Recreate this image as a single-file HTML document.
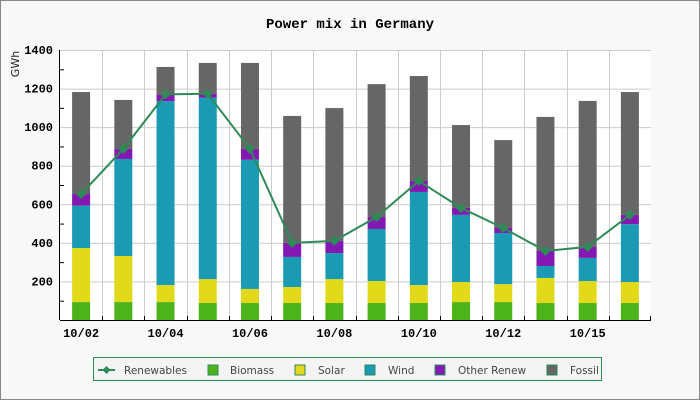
<!DOCTYPE html>
<html><head><meta charset="utf-8"><style>
html,body{margin:0;padding:0;background:#f8f8f8}
svg{display:block}
.lg{font-family:"DejaVu Sans",sans-serif;font-size:10.5px;fill:#444}
</style></head><body>
<svg id="chart" width="700" height="400" xmlns="http://www.w3.org/2000/svg">
<rect x="0.5" y="0.5" width="699" height="399" fill="#f8f8f8" stroke="#888"/>
<text x="350" y="28" text-anchor="middle" font-family="Liberation Mono, monospace" font-weight="bold" font-size="14" fill="#000">Power mix in Germany</text>
<text x="19" y="64" transform="rotate(-90 19 64)" text-anchor="middle" font-family="DejaVu Sans, sans-serif" font-size="11" fill="#222">GWh</text>
<rect x="60" y="50" width="591" height="270" fill="#fff"/>
<g id="grid"></g><g id="bars"></g><g id="line"></g><g id="axes"></g>
<g>
<rect x="93.5" y="357.5" width="508" height="23" fill="#f4f4f4" stroke="#2e8b57"/>
<g>
<line x1="98" y1="370" x2="115" y2="370" stroke="#2e8b57" stroke-width="2"/>
<path d="M106.5 366 L110.5 370 L106.5 374 L102.5 370Z" fill="#2e8b57"/>
<text x="124" y="374" class="lg">Renewables</text></g>
<g><rect x="208" y="365" width="10" height="10" fill="#4db31a" stroke="#2e8b57"/><text x="230" y="374" class="lg">Biomass</text></g>
<g><rect x="295" y="365" width="10" height="10" fill="#e2d91a" stroke="#2e8b57"/><text x="318" y="374" class="lg">Solar</text></g>
<g><rect x="365" y="365" width="10" height="10" fill="#1b9ab4" stroke="#2e8b57"/><text x="388" y="374" class="lg">Wind</text></g>
<g><rect x="435" y="365" width="10" height="10" fill="#8318b3" stroke="#2e8b57"/><text x="458" y="374" class="lg">Other Renew</text></g>
<g><rect x="547" y="365" width="10" height="10" fill="#666" stroke="#2e8b57"/><text x="570" y="374" class="lg">Fossil</text></g>
</g>
</svg>
<script>
const dates = ["10/02","10/03","10/04","10/05","10/06","10/07","10/08","10/09","10/10","10/11","10/12","10/14","10/15","10/16"];
const biomass = [93,93,93,88,88,88,88,88,88,93,93,88,88,88];
const solar = [280,239,88,124,73,83,124,114,93,104,93,130,114,109];
const wind = [220,503,954,941,670,156,135,270,483,348,265,62,120,300];
const otherRenew = [60,52,35,20,56,73,63,62,57,36,26,78,57,48];
const fossil = [529,254,142,160,446,658,689,689,544,430,456,695,757,637];
const yTicks = [200,400,600,800,1000,1200,1400];
const colors = ["#4db31a","#e2d91a","#1b9ab4","#8318b3","#666666"];
const names = ["biomass","solar","wind","other-renew","fossil"];
const NS="http://www.w3.org/2000/svg";
const X0=60,X1=651,Y0=320,Y1=50,YMAX=1400;
const step=(X1-X0)/dates.length;
function xc(i){return X0+step*(i+0.5);}
function ys(v){return Y0-(v/YMAX)*(Y0-Y1);}
function mk(tag,attrs,parent){const e=document.createElementNS(NS,tag);for(const k in attrs)e.setAttribute(k,attrs[k]);parent.appendChild(e);return e;}
const grid=document.getElementById('grid'),bars=document.getElementById('bars'),line=document.getElementById('line'),axes=document.getElementById('axes');
yTicks.forEach(t=>{const g=mk('line',{x1:X0,x2:X1,y1:ys(t)+0.5,y2:ys(t)+0.5,stroke:'#ccc'},grid);


const l=mk('text',{x:53,y:ys(t)+4,'text-anchor':'end','font-family':'Liberation Mono, monospace','font-weight':'bold','font-size':'12',fill:'#000'},axes);l.textContent=t;


});
for(let v=100;v<YMAX;v+=200){mk('line',{x1:X0,x2:X0+4,y1:ys(v)+0.5,y2:ys(v)+0.5,stroke:'#000'},axes);}
for(let i=1;i<dates.length;i++){const x=Math.round(X0+step*i)+0.5;const g=mk('line',{x1:x,x2:x,y1:Y1,y2:Y0,stroke:'#ccc'},grid);


mk('line',{x1:x,x2:x,y1:Y0-4,y2:Y0,stroke:'#000'},axes);}
const series=[biomass,solar,wind,otherRenew,fossil];
dates.forEach((d,i)=>{let acc=0;series.forEach((s,k)=>{const y0=ys(acc);acc+=s[i];const y1=ys(acc);
const r=mk('rect',{x:xc(i)-9,y:y1,width:18,height:y0-y1,fill:colors[k]},bars);


});
if(i%2===0){const t=mk('text',{x:xc(i),y:337,'text-anchor':'middle','font-family':'Liberation Mono, monospace','font-weight':'bold','font-size':'12',fill:'#000'},axes);t.textContent=d;

}
});
const ren=dates.map((d,i)=>biomass[i]+solar[i]+wind[i]+otherRenew[i]);
const pl=mk('polyline',{points:ren.map((v,i)=>xc(i)+','+ys(v)).join(' '),fill:'none',stroke:'#2e8b57','stroke-width':2},line);


ren.forEach((v,i)=>{const x=xc(i),y=ys(v);const p=mk('path',{d:`M${x} ${y-5}L${x+5} ${y}L${x} ${y+5}L${x-5} ${y}Z`,fill:'#2e8b57'},line);

});
mk('line',{x1:X0-0.5,x2:X0-0.5,y1:Y1,y2:Y0,stroke:'#000'},axes);
mk('line',{x1:X0,x2:X1,y1:Y0+0.5,y2:Y0+0.5,stroke:'#000'},axes);
mk('line',{x1:X1-0.5,x2:X1-0.5,y1:Y0-4,y2:Y0,stroke:'#000'},axes);
</script>
</body></html>
